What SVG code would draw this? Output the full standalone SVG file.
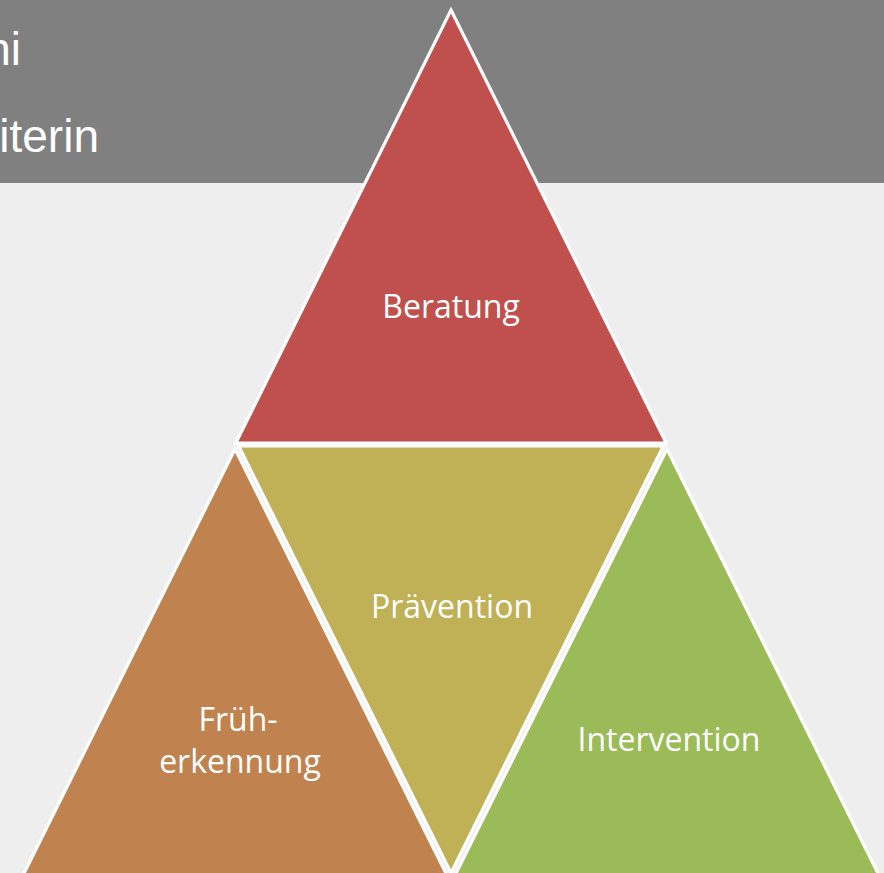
<svg xmlns="http://www.w3.org/2000/svg" width="884" height="873" viewBox="0 0 884 873">
  <style>
    .tri { stroke: #FFFFFF; stroke-width: 3.2; stroke-linejoin: miter; }
    .lbl { font-family: "Open Sans", "Noto Sans", sans-serif; font-size: 32px; fill: #FFFFFF; text-anchor: middle; }
    .head { font-family: "Liberation Sans", Arial, sans-serif; font-size: 46px; fill: #FFFFFF; text-anchor: end; }
  </style>
  <!-- slide background and title band -->
  <rect x="0" y="0" width="884" height="873" fill="#EEEEEE"/>
  <rect x="0" y="0" width="884" height="183" fill="#808080"/>
  <text class="head" x="21" y="65">hi</text>
  <text class="head" x="99" y="152">iterin</text>

  <!-- pyramid segments -->
  <g id="beratung">
    <polygon class="tri" fill="#C0504D" points="451,10 666.2,443 235.8,443"/>
    <text class="lbl" x="451" y="318">Beratung</text>
  </g>
  <g id="praevention">
    <polygon class="tri" fill="#C0B156" points="238.7,446 663.3,446 451,873"/>
    <text class="lbl" x="452" y="618">Prävention</text>
  </g>
  <g id="frueherkennung">
    <polygon class="tri" fill="#C0834F" points="235,449 447.8,877 22.2,877"/>
    <text class="lbl" x="238" y="731">Früh-</text>
    <text class="lbl" x="240" y="773">erkennung</text>
  </g>
  <g id="intervention">
    <polygon class="tri" fill="#9BBB59" points="667,449 879.8,877 454.2,877"/>
    <text class="lbl" x="669" y="751">Intervention</text>
  </g>
  <g id="connectors"/>
</svg>
